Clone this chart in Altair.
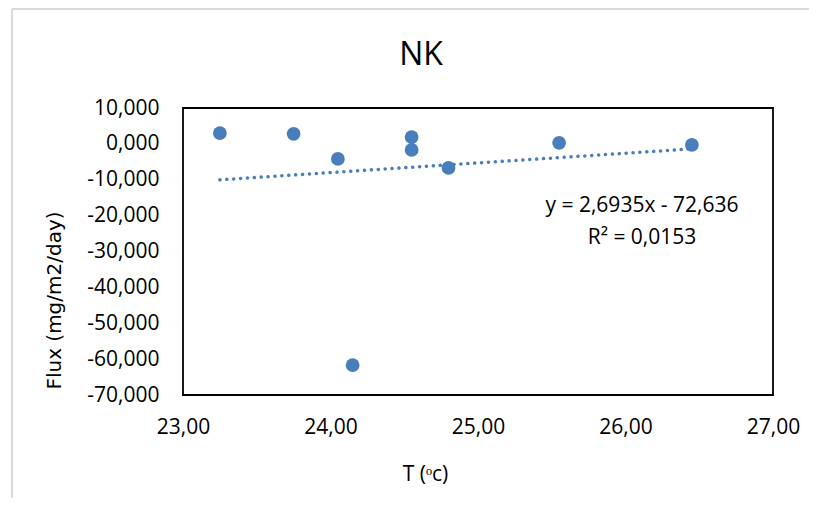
import altair as alt
import pandas as pd

# Data
temps = [23.25, 23.75, 24.05, 24.15, 24.55, 24.55, 24.80, 25.55, 26.45]
flux = [3.0, 2.8, -4.2, -61.7, 1.9, -1.7, -6.7, 0.3, -0.3]

slope = 2.6935
intercept = -72.636
eq_lines = ["y = 2,6935x - 72,636", "R² = 0,0153"]
chart_title = "NK"

x_ticks = [23, 24, 25, 26, 27]
y_ticks = [-70, -60, -50, -40, -30, -20, -10, 0, 10]

pts = pd.DataFrame({"T": temps, "Flux": flux})
trend = pd.DataFrame({"T": [min(temps), max(temps)]})
trend["Flux"] = slope * trend["T"] + intercept

FONT = "Open Sans"
BLUE = "#4a7ebb"

x_enc = alt.X(
    "T:Q",
    scale=alt.Scale(domain=[23, 27], nice=False, zero=False),
    axis=alt.Axis(
        values=x_ticks,
        labelExpr="replace(format(datum.value, '.2f'), '.', ',')",
        title="T (ᵒc)",
        titleX=242,
        titleY=79,
        titleBaseline="middle",
        titleAlign="center",
        titleFont=FONT,
        titleFontSize=21,
        titleFontWeight="normal",
        titleColor="#000000",
        labelFont=FONT,
        labelFontSize=21,
        labelColor="#000000",
        labelPadding=21,
        labelFlush=False,
        labelOverlap=False,
        ticks=False,
        tickSize=0,
        grid=False,
        domain=False,
    ),
)
y_enc = alt.Y(
    "Flux:Q",
    scale=alt.Scale(domain=[-70, 10], nice=False, zero=False),
    axis=alt.Axis(
        values=y_ticks,
        labelExpr="(datum.value < 0 ? '-' : '') + replace(format(abs(datum.value), '.3f'), '.', ',')",
        title="Flux (mg/m2/day)",
        titleX=-129,
        titleY=192,
        titleAngle=-90,
        titleBaseline="middle",
        titleAlign="center",
        titleFont="DejaVu Sans",
        titleFontSize=20,
        titleFontWeight="normal",
        titleColor="#000000",
        labelFont=FONT,
        labelFontSize=21,
        labelColor="#000000",
        labelPadding=24,
        labelFlush=False,
        labelOverlap=False,
        labelBound=False,
        ticks=False,
        tickSize=0,
        grid=False,
        domain=False,
    ),
)

points = alt.Chart(pts).mark_circle(size=190, color=BLUE, opacity=1).encode(x=x_enc, y=y_enc)

line = alt.Chart(trend).mark_line(
    color=BLUE, strokeWidth=3.5, strokeDash=[0.1, 6.8], strokeCap="round"
).encode(x=x_enc, y=y_enc)

eq = alt.Chart(pd.DataFrame({"t": ["\n".join(eq_lines)]})).mark_text(
    font=FONT, fontSize=21, color="#000000", align="center", baseline="middle",
    lineBreak="\n", lineHeight=32,
).encode(x=alt.value(459), y=alt.value(98), text="t:N")

title_mark = alt.Chart(pd.DataFrame({"t": [chart_title]})).mark_text(
    font=FONT, fontSize=32, color="#000000", align="center", baseline="alphabetic",
).encode(x=alt.value(238), y=alt.value(-43), text="t:N")

frame_left = alt.Chart(pd.DataFrame({"a": [0]})).mark_rule(color="#d9d9d9", strokeWidth=2).encode(
    x=alt.value(-171), y=alt.value(-99), y2=alt.value(420)
)
frame_top = alt.Chart(pd.DataFrame({"a": [0]})).mark_rule(color="#d9d9d9", strokeWidth=2).encode(
    x=alt.value(-171), x2=alt.value(640), y=alt.value(-99)
)

chart = alt.layer(frame_left, frame_top, line, points, eq, title_mark).properties(
    width=590,
    height=287,
    background="#ffffff",
    autosize=alt.AutoSizeParams(type="none"),
    padding={"left": 175, "top": 100, "right": 36, "bottom": 103},
).configure_view(stroke="#000000", strokeWidth=1.8)

chart.save("out.html", embed_options={"renderer": "svg", "actions": False})
